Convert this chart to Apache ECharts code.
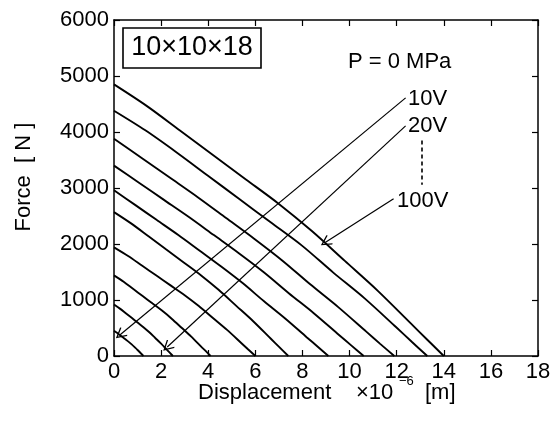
<!DOCTYPE html>
<html>
<head>
<meta charset="utf-8">
<script src="https://cdn.jsdelivr.net/npm/echarts@6/dist/echarts.min.js"></script>
<style>
  html, body { margin: 0; padding: 0; background: #ffffff; }
  #chart { width: 557px; height: 431px; }
</style>
</head>
<body>
<div id="chart"></div>
<script>
// Force–displacement curves of a 10x10x18 stack at P = 0 MPa, one per drive voltage.
// Each curve: [displacement (x1e-6 m), force (N)]
const voltages = ['10V', '20V', '30V', '40V', '50V', '60V', '70V', '80V', '90V', '100V'];

const curve10V  = [[0, 450], [0.125, 414], [0.25, 374], [0.375, 333], [0.5, 293], [0.625, 252], [0.75, 207], [0.875, 158], [1.0, 108], [1.125, 54], [1.25, 0]];
const curve20V  = [[0, 920], [0.25, 846], [0.5, 764], [0.75, 681], [1.0, 598], [1.25, 515], [1.5, 423], [1.75, 322], [2.0, 221], [2.25, 110], [2.375, 55], [2.5, 0]];
const curve30V  = [[0, 1440], [0.41, 1325], [0.82, 1195], [1.23, 1066], [1.64, 936], [2.05, 806], [2.46, 662], [2.87, 504], [3.28, 346], [3.69, 173], [3.9, 86], [4.1, 0]];
const curve40V  = [[0, 1940], [0.6, 1785], [1.2, 1610], [1.8, 1436], [2.4, 1261], [3.0, 1086], [3.6, 892], [4.2, 679], [4.8, 466], [5.4, 233], [5.7, 116], [6.0, 0]];
const curve50V  = [[0, 2570], [0.74, 2364], [1.48, 2133], [2.22, 1902], [2.96, 1671], [3.7, 1439], [4.44, 1182], [5.18, 900], [5.92, 617], [6.66, 308], [7.03, 154], [7.4, 0]];
const curve60V  = [[0, 2960], [0.91, 2694], [1.82, 2427], [2.73, 2161], [3.64, 1880], [4.55, 1598], [5.46, 1302], [6.37, 977], [7.28, 666], [8.19, 332], [8.65, 166], [9.1, 0]];
const curve70V  = [[0, 3400], [1.06, 3094], [2.12, 2788], [3.18, 2482], [4.24, 2159], [5.3, 1836], [6.36, 1496], [7.42, 1122], [8.48, 765], [9.54, 381], [10.07, 190], [10.6, 0]];
const curve80V  = [[0, 3880], [1.19, 3531], [2.38, 3182], [3.57, 2832], [4.76, 2464], [5.95, 2095], [7.14, 1707], [8.33, 1280], [9.52, 873], [10.71, 435], [11.3, 217], [11.9, 0]];
const curve90V  = [[0, 4380], [1.33, 4030], [2.66, 3635], [3.99, 3219], [5.32, 2803], [6.65, 2387], [7.98, 1971], [9.31, 1489], [10.64, 1029], [11.97, 517], [12.64, 254], [13.3, 0]];
const curve100V = [[0, 4850], [1.4, 4462], [2.8, 4026], [4.2, 3589], [5.6, 3153], [7.0, 2716], [8.4, 2231], [9.8, 1698], [11.2, 1164], [12.6, 582], [13.3, 291], [14.0, 0]];

const curves = [curve10V, curve20V, curve30V, curve40V, curve50V, curve60V, curve70V, curve80V, curve90V, curve100V];

// Axis ranges and ticks
const xRange = { min: 0, max: 18, step: 2 };
const yRange = { min: 0, max: 6000, step: 1000 };

// Leader arrows from the voltage captions to the curves, in data units
const arrow10V  = [[12.38, 4610], [0.26, 380]];
const arrow20V  = [[12.38, 4110], [2.26, 160]];
const arrow100V = [[11.87, 2810], [8.98, 2030]];
const dotsBetween = [[13.07, 3850], [13.07, 3060]];

const FONT = '"Liberation Sans", Arial, Helvetica, sans-serif';
const chevron = 'path://M0,0 L6,10 L5,11 L0,2.6 L-5,11 L-6,10 Z';

const chart = echarts.init(document.getElementById('chart'), null, { renderer: 'canvas' });

function axisCommon(label) {
  return {
    axisLine: { show: true, onZero: false, lineStyle: { color: '#000', width: 1.5 } },
    axisTick: { show: true, inside: true, length: 6, lineStyle: { color: '#000', width: 1.2 } },
    splitLine: { show: false },
    axisLabel: label
  };
}

const labelStyle = { show: true, color: '#000', fontFamily: FONT, fontSize: 22, formatter: v => String(v) };

const series = curves.map((pts, i) => ({
  name: voltages[i],
  type: 'line',
  data: pts,
  showSymbol: false,
  symbol: 'none',
  smooth: 0.3,
  silent: true,
  animation: false,
  lineStyle: { color: '#000', width: 1.9 },
  z: 3
}));

// Annotation arrows and the dashed "..." line ride on the first series
series[0].markLine = {
  silent: true,
  animation: false,
  symbol: ['none', chevron],
  symbolSize: [11, 11],
  label: { show: false },
  lineStyle: { color: '#000', width: 1.2, type: 'solid' },
  data: [
    [{ coord: arrow10V[0] }, { coord: arrow10V[1] }],
    [{ coord: arrow20V[0] }, { coord: arrow20V[1] }],
    [{ coord: arrow100V[0] }, { coord: arrow100V[1] }],
    [
      { coord: dotsBetween[0], symbol: 'none', lineStyle: { type: [4, 3], width: 1.6 } },
      { coord: dotsBetween[1], symbol: 'none' }
    ]
  ]
};

function txt(text, x, y, size, align, extra) {
  return Object.assign({
    type: 'text', x: x, y: y, z: 100,
    style: { text: text, font: size + 'px ' + FONT, fill: '#000', align: align || 'left', verticalAlign: 'middle' }
  }, extra || {});
}

const option = {
  backgroundColor: '#ffffff',
  animation: false,
  grid: { left: 114, right: 19, top: 20, bottom: 75, containLabel: false },
  xAxis: [
    Object.assign({ type: 'value', position: 'bottom', min: xRange.min, max: xRange.max, interval: xRange.step },
      axisCommon(Object.assign({ margin: 5 }, labelStyle))),
    Object.assign({ type: 'value', position: 'top', min: xRange.min, max: xRange.max, interval: xRange.step },
      axisCommon({ show: false }))
  ],
  yAxis: [
    Object.assign({ type: 'value', position: 'left', min: yRange.min, max: yRange.max, interval: yRange.step },
      axisCommon(Object.assign({ margin: 5 }, labelStyle))),
    Object.assign({ type: 'value', position: 'right', min: yRange.min, max: yRange.max, interval: yRange.step },
      axisCommon({ show: false }))
  ],
  series: series,
  graphic: [
    { type: 'rect', z: 99, shape: { x: 123, y: 28, width: 138, height: 40 },
      style: { fill: '#fff', stroke: '#000', lineWidth: 1.6 } },
    txt('10×10×18', 192, 48, 27, 'center'),
    txt('P = 0 MPa', 348, 62, 22),
    txt('10V', 408, 99, 22),
    txt('20V', 408, 126, 22),
    txt('100V', 397, 201, 22),
    // axis titles
    txt('Force  [ N ]', 24, 177, 22, 'center', { rotation: Math.PI / 2 }),
    txt('Displacement', 198, 393, 22),
    txt('×10', 356, 393, 22),
    txt('−6', 399, 381, 13),
    txt('[m]', 425, 393, 22)
  ]
};

chart.setOption(option);
</script>
</body>
</html>
